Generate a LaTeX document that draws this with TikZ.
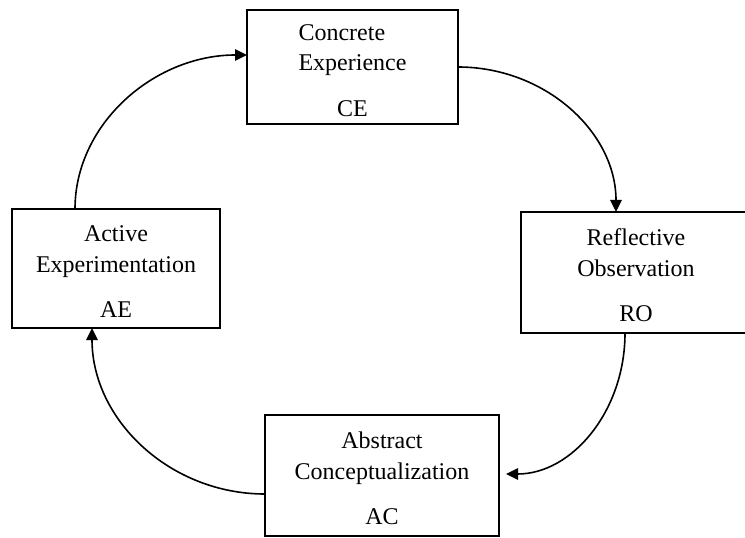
\documentclass[tikz,border=0pt]{standalone}
\usepackage{fontspec}
\setmainfont{Liberation Serif}
\usetikzlibrary{arrows.meta,calc}
\newcommand{\topgap}{\rule{0pt}{17pt}}

\begin{document}
\begin{tikzpicture}[x=0.75pt,y=-0.75pt]
\tikzset{StageStyle/.style =
		{shape = rectangle,
		draw,
		line width = 0.8pt,
		inner sep = 0pt,
		outer sep = 0pt,
		align = center,
		font = \fontsize{18pt}{23pt}\selectfont},
	FlowStyle/.style =
		{line width = 1.2pt,
		-{Triangle[length=9pt,width=8.5pt]}}}
	\useasboundingbox (0,0) rectangle (745,538);

	\node[StageStyle, minimum width=158.25pt, minimum height=85.5pt] (CE) at (352.5,67)
		{\topgap\rlap{Concrete}\phantom{Experience}\\Experience\\[11pt]CE};
	\node[StageStyle, minimum width=172.5pt, minimum height=90.75pt] (RO) at (636,272.5)
		{\topgap Reflective\\Observation\\[11pt]RO};
	\node[StageStyle, minimum width=175.5pt, minimum height=90.75pt] (AC) at (382,475.5)
		{\topgap Abstract\\Conceptualization\\[11pt]AC};
	\node[StageStyle, minimum width=156pt, minimum height=89.25pt] (AE) at (116,268.5)
		{\topgap Active\\Experimentation\\[11pt]AE};

	% the learning cycle
	\draw[FlowStyle] ($(AE.north)+(-41,0)$) .. controls +(0,-85) and +(-93,0) .. ($(CE.west)+(0,-12)$);
	\draw[FlowStyle] (CE.east) .. controls +(87,0) and +(0,-80) .. ($(RO.north)+(-20,0)$);
	\draw[FlowStyle] ($(RO.south)+(-11,0)$) .. controls +(0,78) and +(66,0) .. ($(AC.east)+(7,-1.5)$);
	\draw[FlowStyle] ($(AC.west)+(0,18.5)$) .. controls +(-95,0) and +(0,92) .. ($(AE.south)+(-24,0)$);
%	\draw[FlowStyle] (CE) -- (RO);
\end{tikzpicture}
\end{document}
